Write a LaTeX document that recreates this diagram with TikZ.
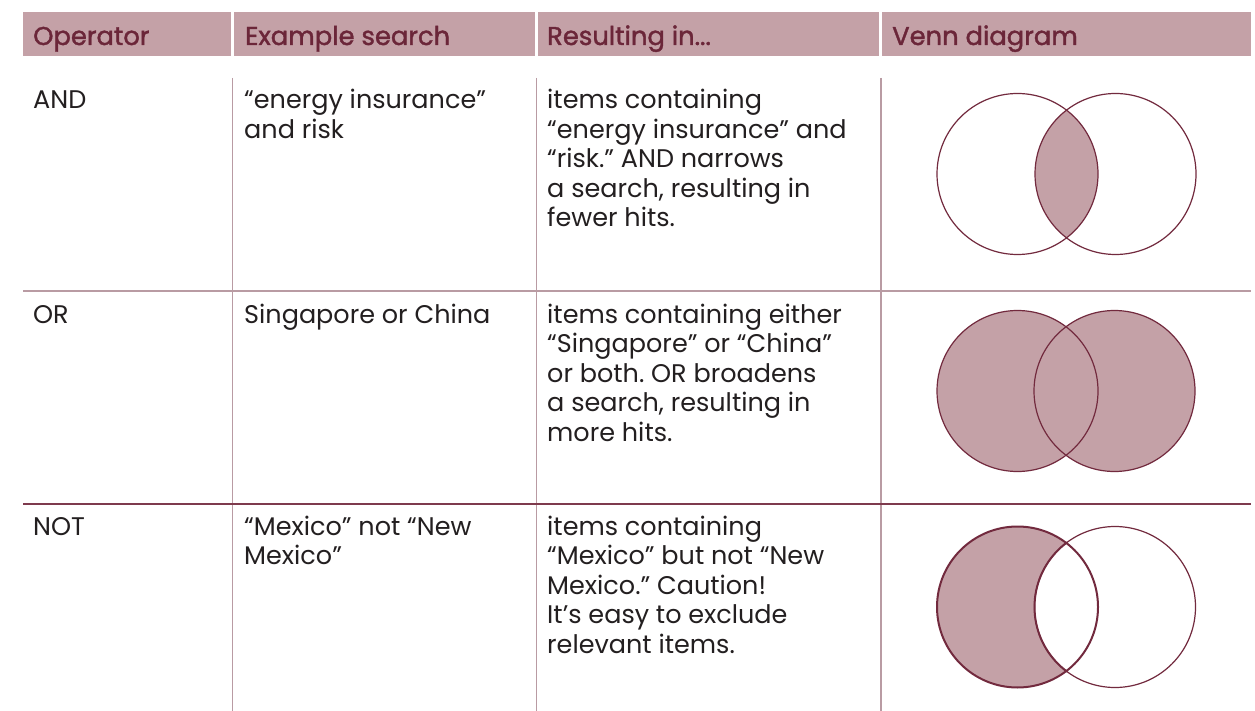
\documentclass[tikz,border=0pt]{standalone}
\usepackage{fontspec}
\setmainfont{Poppins}
\newfontfamily\hdrfont[FakeBold=1.5]{Poppins}
\frenchspacing
\definecolor{hdrfill}{HTML}{C4A1A7}
\definecolor{hdrtext}{HTML}{6B2639}
\definecolor{rulelight}{HTML}{B99BA3}
\definecolor{ruledark}{HTML}{7E3A4D}
\definecolor{venn}{HTML}{722A3E}
\definecolor{bodytext}{HTML}{231F20}
\begin{document}
\begin{tikzpicture}[x=1pt,y=-1pt,
  hdrcell/.style={fill=hdrfill,draw=none},
  hdrlabel/.style={anchor=base west,inner sep=0pt,text=hdrtext,font=\hdrfont\fontsize{25.8}{29.5}\selectfont},
  cell/.style={anchor=base west,inner sep=0pt,text=bodytext,align=left,font=\frenchspacing\fontsize{25.5}{29.5}\selectfont},
  vrule/.style={draw=rulelight,line width=1.4pt},
  hrulelight/.style={draw=rulelight,line width=1.4pt},
  hruledark/.style={draw=ruledark,line width=1.2pt},
  vennline/.style={draw=venn,line width=1.2pt},
  vennthick/.style={draw=venn,line width=2pt}]
\useasboundingbox (0,0) rectangle (1255,711);
\fill[white] (0,0) rectangle (1255,711);
% header
\path[hdrcell] (23,12) rectangle (231,56);
\path[hdrcell] (234,12) rectangle (535,56);
\path[hdrcell] (538,12) rectangle (879,56);
\path[hdrcell] (882,12) rectangle (1251,56);
\node[hdrlabel] (h1) at (33,45) {Operator};
\node[hdrlabel] (h2) at (245,45) {Example search};
\node[hdrlabel] (h3) at (547,45) {Resulting in...};
\node[hdrlabel] (h4) at (892,45) {Venn diagram};
% rules
\draw[vrule] (232.5,78) -- (232.5,711);
\draw[vrule] (536.5,78) -- (536.5,711);
\draw[vrule] (881,78) -- (881,711);
\draw[hrulelight] (23,291) -- (1251,291);
\draw[hruledark] (23,504) -- (1251,504);
% row 1 (anchor = baseline of last line)
\node[cell] (op1) at (33,109) {AND};
\node[cell] (ex1) at (244,138.5) {“energy insurance”\\and risk};
\node[cell] (res1) at (547,227) {items containing\\“energy insurance” and\\“risk.” AND narrows\\a search, resulting in\\fewer hits.};
% row 2
\node[cell] (op2) at (33,323) {OR};
\node[cell] (ex2) at (244,323) {Singapore or China};
\node[cell] (res2) at (547,441) {items containing either\\“Singapore” or “China”\\or both. OR broadens\\a search, resulting in\\more hits.};
% row 3
\node[cell] (op3) at (33,535) {NOT};
\node[cell] (ex3) at (244,564.5) {“Mexico” not “New\\Mexico”};
\node[cell] (res3) at (547,653) {items containing\\“Mexico” but not “New\\Mexico.” Caution!\\It’s easy to exclude\\relevant items.};
% Venn AND
\coordinate (aL) at (1017.5,174);
\coordinate (aR) at (1115.5,174);
\begin{scope}
  \clip (aL) circle (80.5pt);
  \fill[hdrfill] (aR) circle (80.5pt);
\end{scope}
\draw[vennline] (aL) circle (80.5pt);
\draw[vennline] (aR) circle (80.5pt);
% Venn OR
\coordinate (oL) at (1017.5,391);
\coordinate (oR) at (1114.5,391);
\fill[hdrfill] (oL) circle (80.5pt);
\fill[hdrfill] (oR) circle (80.5pt);
\draw[vennline] (oR) circle (80.5pt);
\draw[vennline] (oL) circle (80.5pt);
% Venn NOT
\coordinate (nL) at (1017.5,607);
\coordinate (nR) at (1115,607);
\fill[hdrfill] (nL) circle (80.5pt);
\fill[white] (nR) circle (80.5pt);
\draw[vennline] (nR) circle (80.5pt);
\begin{scope}
  \clip (nL) circle (81.5pt);
  \draw[vennthick] (nR) circle (80.5pt);
\end{scope}
\draw[vennthick] (nL) circle (80.5pt);
\end{tikzpicture}
\end{document}
